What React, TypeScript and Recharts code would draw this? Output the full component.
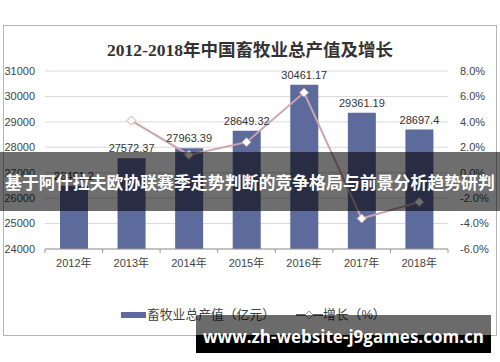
import React from 'react';
import {
  ComposedChart,
  Bar,
  Line,
  XAxis,
  YAxis,
  CartesianGrid,
  LabelList,
  Legend,
} from 'recharts';

const years = ['2012年', '2013年', '2014年', '2015年', '2016年', '2017年', '2018年'];
const output = [26491.2, 27572.37, 27963.39, 28649.32, 30461.17, 29361.19, 28697.4];
const growth = [null, 4.1, 1.4, 2.4, 6.3, -3.6, -2.3];
const leftTicks = [24000, 25000, 26000, 27000, 28000, 29000, 30000, 31000];
const rightTicks = [-6, -4, -2, 0, 2, 4, 6, 8];

const data = years.map((year, i) => ({ year, output: output[i], growth: growth[i] }));

const BAR = '#5d6a9c';
const LINE = '#cba4ae';
const FONT = 'Arial, "Liberation Sans", "Noto Sans CJK SC", sans-serif';

const Diamond = (props: any) => {
  const { cx, cy, value } = props;
  if (value == null || cx == null) return null;
  const r = 4.5;
  return (
    <path
      d={`M${cx},${cy - r}L${cx + r},${cy}L${cx},${cy + r}L${cx - r},${cy}Z`}
      fill="#fff"
      stroke={LINE}
      strokeWidth={1}
    />
  );
};

const YearTick = (props: any) => {
  const { x, y, payload } = props;
  const step = 403 / years.length;
  return (
    <g>
      <line x1={x - step / 2} x2={x - step / 2} y1={y - 8} y2={y - 4} stroke="#999" />
      {payload.index === years.length - 1 && (
        <line x1={x + step / 2} x2={x + step / 2} y1={y - 8} y2={y - 4} stroke="#999" />
      )}
      <text x={x} y={y + 10} textAnchor="middle" fontSize={11} fill="#444" fontFamily={FONT}>
        {payload.value}
      </text>
    </g>
  );
};

const LegendBox = () => (
  <div style={{ position: 'relative', height: 20, fontFamily: FONT, fontSize: 12.8, color: '#444' }}>
    <div style={{ position: 'absolute', left: 121, top: 6, width: 25, height: 6, background: BAR }} />
    <div style={{ position: 'absolute', left: 147, top: 0, lineHeight: '18px', whiteSpace: 'nowrap' }}>
      畜牧业总产值（亿元）
    </div>
    <svg style={{ position: 'absolute', left: 296, top: 4 }} width={28} height={10}>
      <line x1={0} x2={27} y1={5} y2={5} stroke="#666" strokeWidth={2} />
      <path d="M13,1L17,5L13,9L9,5Z" fill="#fff" stroke="#999" />
    </svg>
    <div style={{ position: 'absolute', left: 323, top: 0, lineHeight: '18px', whiteSpace: 'nowrap' }}>
      增长（%）
    </div>
  </div>
);

export default function App() {
  return (
    <div style={{ position: 'absolute', left: 0, top: 0, width: 500, height: 362, background: '#fff', overflow: 'hidden' }}>
      <div
        style={{
          position: 'absolute',
          left: 3,
          top: 25,
          width: 492,
          height: 309,
          border: '1px solid #b5b5b5',
        }}
      />
      <div
        style={{
          position: 'absolute',
          left: 0,
          top: 36,
          width: 500,
          textAlign: 'center',
          fontFamily: '"Liberation Serif", "Noto Sans CJK SC", serif',
          fontWeight: 'bold',
          fontSize: 17.5,
          color: '#333',
        }}
      >
        2012-2018年中国畜牧业总产值及增长
      </div>
      <div style={{ position: 'absolute', left: 0, top: 0 }}>
        <ComposedChart
          width={500}
          height={362}
          data={data}
          margin={{ top: 71, right: 2, bottom: 68, left: 3 }}
        >
          <CartesianGrid vertical={false} stroke="#d9d9d9" yAxisId="left" />
          <XAxis
            dataKey="year"
            height={25}
            axisLine={{ stroke: '#999' }}
            tickLine={false}
            tick={<YearTick />}
            interval={0}
          />
          <YAxis
            yAxisId="left"
            domain={[24000, 31000]}
            ticks={leftTicks}
            width={42}
            axisLine={false}
            tickLine={false}
            tickSize={0}
            tickMargin={10}
            tick={{ fontSize: 11, fill: '#444', fontFamily: FONT }}
          />
          <YAxis
            yAxisId="right"
            orientation="right"
            domain={[-6, 8]}
            ticks={rightTicks}
            width={50}
            axisLine={false}
            tickLine={false}
            tickSize={0}
            tickMargin={12}
            tickFormatter={(v: number) => `${v.toFixed(1)}%`}
            tick={{ fontSize: 11, fill: '#444', fontFamily: FONT, textAnchor: 'start' }}
          />
          <Legend content={<LegendBox />} wrapperStyle={{ left: 0, top: 306, width: 500 }} />
          <Bar yAxisId="left" dataKey="output" fill={BAR} barSize={28} isAnimationActive={false}>
            <LabelList
              dataKey="output"
              position="top"
              offset={6}
              style={{ fontSize: 11, fill: '#333', fontFamily: FONT }}
            />
          </Bar>
          <Line
            yAxisId="right"
            dataKey="growth"
            stroke={LINE}
            strokeWidth={2}
            dot={<Diamond />}
            activeDot={false}
            connectNulls={false}
            isAnimationActive={false}
          />
        </ComposedChart>
      </div>
      <div
        style={{
          position: 'absolute',
          left: 0,
          top: 152,
          width: 500,
          height: 59,
          background: 'rgba(0,0,0,0.57)',
          color: '#fff',
          fontFamily: '"Noto Sans CJK SC", sans-serif',
          fontWeight: 'bold',
          fontSize: 16.9,
          lineHeight: '59px',
          textAlign: 'center',
          whiteSpace: 'nowrap',
        }}
      >
        基于阿什拉夫欧协联赛季走势判断的竞争格局与前景分析趋势研判
      </div>
      <div style={{ position: 'absolute', left: 196, top: 315, width: 295, height: 20, background: 'rgba(0,0,0,0.58)' }} />
      <div style={{ position: 'absolute', left: 196, top: 335, width: 295, height: 18, background: '#000' }} />
      <div
        style={{
          position: 'absolute',
          left: 196,
          top: 323,
          width: 295,
          textAlign: 'center',
          color: '#fff',
          fontFamily: '"Open Sans", sans-serif',
          fontWeight: 'bold',
          fontSize: 17,
          lineHeight: '28px',
          whiteSpace: 'nowrap',
        }}
      >
        www.zh-website-j9games.com.cn
      </div>
    </div>
  );
}
